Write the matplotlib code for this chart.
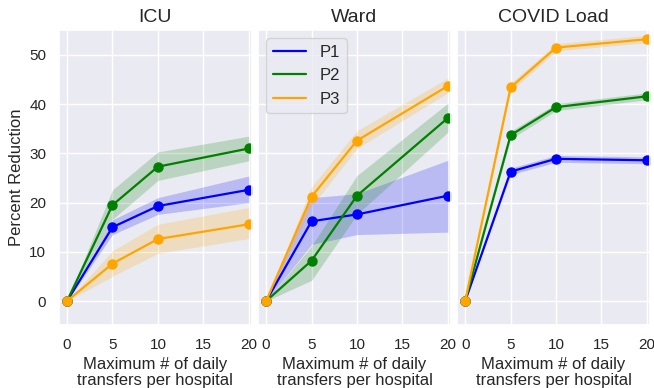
import matplotlib.pyplot as plt
import seaborn as sns

sns.set_theme(style='darkgrid')
plt.rcParams['font.family'] = ['Liberation Sans', 'DejaVu Sans']

transfers = [0, 5, 10, 20]
panels = ['ICU', 'Ward', 'COVID Load']
policies = ['P1', 'P2', 'P3']
colors = ['blue', 'green', 'orange']

# mean percent reduction per panel, per policy
icu_mean = [[0, 15.0, 19.3, 22.6], [0, 19.5, 27.3, 31.0], [0, 7.6, 12.6, 15.6]]
icu_low = [[0, 13.5, 17.6, 20.0], [0, 16.6, 24.5, 28.5], [0, 5.0, 9.7, 12.7]]
icu_high = [[0, 16.5, 21.0, 25.4], [0, 22.6, 30.3, 33.5], [0, 10.2, 15.6, 19.0]]

ward_mean = [[0, 16.2, 17.6, 21.4], [0, 8.2, 21.4, 37.2], [0, 21.2, 32.6, 43.7]]
ward_low = [[0, 11.5, 13.5, 14.0], [0, 4.2, 17.6, 34.3], [0, 19.2, 31.0, 42.3]]
ward_high = [[0, 21.0, 21.8, 28.6], [0, 11.2, 25.5, 40.2], [0, 23.2, 34.6, 45.3]]

load_mean = [[0, 26.3, 28.9, 28.6], [0, 33.7, 39.4, 41.6], [0, 43.4, 51.5, 53.2]]
load_low = [[0, 25.7, 28.2, 27.9], [0, 32.9, 38.7, 40.9], [0, 42.6, 50.8, 52.5]]
load_high = [[0, 27.0, 29.6, 29.3], [0, 34.5, 40.1, 42.3], [0, 44.2, 52.3, 54.0]]

means = [icu_mean, ward_mean, load_mean]
lows = [icu_low, ward_low, load_low]
highs = [icu_high, ward_high, load_high]

fig, axes = plt.subplots(1, 3, figsize=(6.54, 3.88), dpi=100, sharey=True)
fig.subplots_adjust(left=0.090, right=0.994, top=0.923, bottom=0.162, wspace=0.031)

for k, ax in enumerate(axes):
    for i, pol in enumerate(policies):
        ax.fill_between(transfers, lows[k][i], highs[k][i],
                        color=colors[i], alpha=0.2, linewidth=0)
        ax.plot(transfers, means[k][i], color=colors[i], linewidth=1.6, label=pol)
        ax.plot(transfers, means[k][i], 'o', color=colors[i], markersize=6.5)
    ax.set_title(panels[k], fontsize=14)
    ax.set_xlim(-0.9, 20.35)
    ax.set_ylim(-4.9, 55.1)
    ax.set_xticks([0, 5, 10, 15, 20])
    ax.set_yticks([0, 10, 20, 30, 40, 50])
    ax.tick_params(labelsize=11, pad=3)
    ax.set_xlabel('Maximum # of daily\ntransfers per hospital', fontsize=12, linespacing=1.05)

axes[0].set_ylabel('Percent Reduction', fontsize=12)
handles, labels = axes[1].get_legend_handles_labels()
axes[1].legend(handles, labels, loc='upper left', fontsize=12)

fig.savefig('out.png')
